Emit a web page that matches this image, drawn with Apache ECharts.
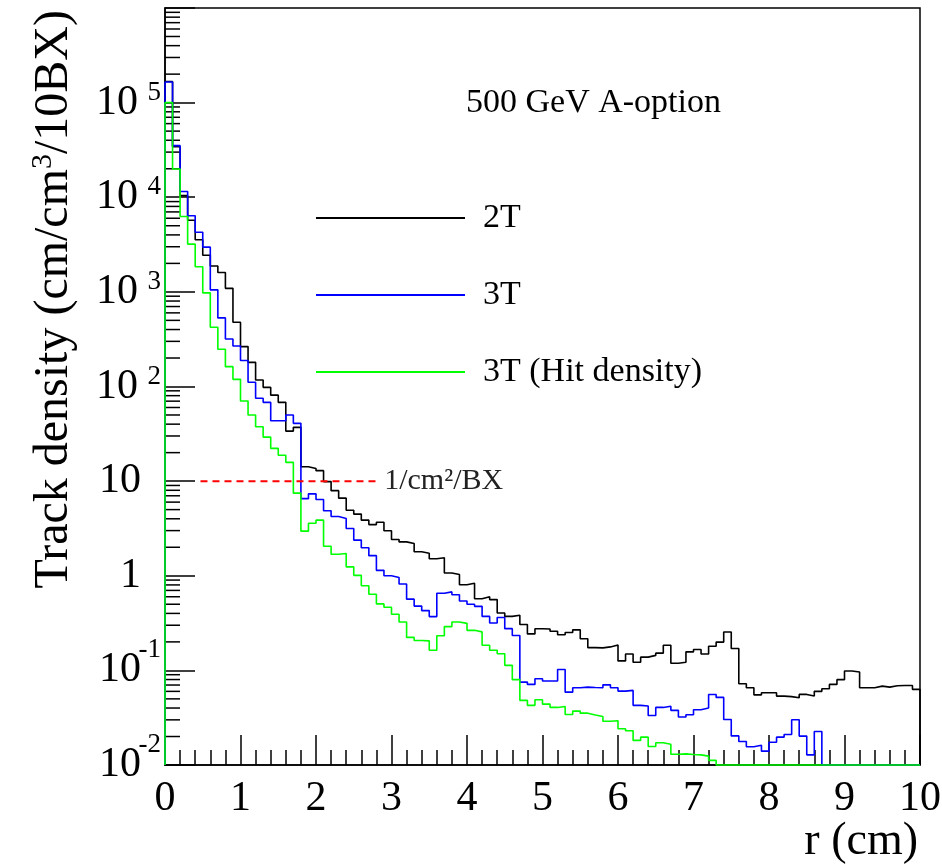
<!DOCTYPE html>
<html><head><meta charset="utf-8">
<script src="https://cdn.jsdelivr.net/npm/echarts@6/dist/echarts.min.js"></script>
<style>html,body{margin:0;padding:0;background:#fff}#c{width:942px;height:864px}</style>
</head><body><div id="c"></div>
<script>
// ---- data ----
const binStart = 0;      // cm
const binWidth = 0.1;    // cm
const yMin = 0.01, yMax = 1e6;
const xMin = 0, xMax = 10;
const seriesNames = ['2T', '3T', '3T (Hit density)'];

const track2T = [
  1.67e5, 3.42e4, 1.04e4, 5.71e3, 3.55e3, 2.44e3, 1.88e3, 1.60e3, 1.09e3, 478,
  264, 180, 117, 98, 81, 68, 33.8, 37.0, 14.2, 13.6,
  12.9, 9.88, 7.93, 6.61, 4.93, 4.48, 3.87, 3.47, 3.68, 2.99,
  2.42, 2.28, 2.19, 1.79, 1.73, 1.51, 1.55, 1.07, 1.03, 0.804,
  0.834, 0.572, 0.600, 0.560, 0.404, 0.372, 0.382, 0.305, 0.243, 0.275,
  0.274, 0.259, 0.238, 0.251, 0.268, 0.216, 0.174, 0.173, 0.177, 0.185,
  0.126, 0.149, 0.122, 0.138, 0.144, 0.152, 0.184, 0.119, 0.122, 0.157,
  0.166, 0.149, 0.180, 0.199, 0.254, 0.170, 0.0723, 0.0656, 0.0551, 0.0581,
  0.0581, 0.0535, 0.0528, 0.0514, 0.0557, 0.0535, 0.0600, 0.0640, 0.0711, 0.0798,
  0.0984, 0.0960, 0.0656, 0.0656, 0.0682, 0.0665, 0.0689, 0.0693, 0.0693, 0.0630
];
const track3T = [
  1.65e5, 3.51e4, 1.15e4, 6.37e3, 4.27e3, 2.97e3, 1.05e3, 531, 318, 268,
  188, 111, 75.0, 68.0, 43.5, 43.5, 49.9, 40.8, 6.53, 7.34,
  6.40, 4.87, 4.23, 4.03, 3.16, 2.38, 1.98, 1.63, 1.14, 1.00,
  0.959, 0.818, 0.566, 0.478, 0.428, 0.370, 0.653, 0.675, 0.630, 0.540,
  0.499, 0.475, 0.372, 0.317, 0.362, 0.276, 0.234, 0.0752, 0.0711, 0.0817,
  0.0771, 0.0771, 0.102, 0.0589, 0.0656, 0.0665, 0.0660, 0.0656, 0.0703, 0.0656,
  0.0604, 0.0614, 0.0427, 0.0421, 0.0334, 0.0406, 0.0418, 0.0378, 0.0321, 0.0340,
  0.0384, 0.0401, 0.0555, 0.0518, 0.0303, 0.0203, 0.0177, 0.0156, 0.0162, 0.0140,
  0.0174, 0.0197, 0.0210, 0.0301, 0.0202, 0.0128, 0.0226, 0, 0, 0,
  0, 0, 0, 0, 0, 0, 0, 0, 0, 0
];
const hit3T = [
  1.0e5, 1.99e4, 6.27e3, 3.20e3, 1.84e3, 976, 423, 248, 162, 119,
  70.3, 49.9, 37.6, 29.2, 22.2, 18.8, 15.8, 7.46, 2.96, 3.59,
  3.87, 2.05, 1.69, 1.72, 1.24, 1.01, 0.783, 0.637, 0.504, 0.464,
  0.392, 0.324, 0.223, 0.207, 0.205, 0.163, 0.232, 0.290, 0.324, 0.314,
  0.265, 0.255, 0.184, 0.163, 0.150, 0.113, 0.0798, 0.0482, 0.0427, 0.0490,
  0.0440, 0.0406, 0.0416, 0.0342, 0.0371, 0.0353, 0.0338, 0.0326, 0.0290, 0.0293,
  0.0242, 0.0230, 0.0182, 0.0197, 0.0157, 0.0172, 0.0166, 0.0130, 0.0131, 0.0129,
  0.0128, 0.0124, 0.0112, 0, 0, 0, 0, 0, 0, 0,
  0, 0, 0, 0, 0, 0, 0, 0, 0, 0,
  0, 0, 0, 0, 0, 0, 0, 0, 0, 0
];
// reference line: 1 /cm^2 /BX
const refX = [0.47, 2.85];
const refLevel = 10;
const refText = '1/cm²/BX';
const plotTitle = '500 GeV A-option';
const yTitle = ['Track density (cm/cm', '3', '/10BX)'];
const xTitle = 'r (cm)';

// ---- drawing ----
const FONT = 'Liberation Serif';
function histPath(vals) {
  const pts = [[binStart, yMin]];
  vals.forEach((v, i) => pts.push([+(binStart + i * binWidth).toFixed(4), Math.max(v, yMin)]));
  const xEnd = +(binStart + vals.length * binWidth).toFixed(4);
  pts.push([xEnd, Math.max(vals[vals.length - 1], yMin)]);
  pts.push([xEnd, yMin]);
  return pts;
}
// log minor tick positions 2..9 x 10^n
const minorY = [];
for (let e = Math.round(Math.log10(yMin)); e < Math.round(Math.log10(yMax)); e++) {
  for (let m = 2; m <= 9; m++) minorY.push([xMin, m * Math.pow(10, e)]);
}

const chart = echarts.init(document.getElementById('c'), null, {renderer: 'canvas'});
function histSeries(name, vals, color) {
  return {
    name, type: 'line', step: 'end', data: histPath(vals),
    symbol: 'none', clip: false, animation: false,
    lineStyle: {color, width: 1.6}, itemStyle: {color}
  };
}
chart.setOption({
  animation: false,
  backgroundColor: '#fff',
  title: {
    text: plotTitle, left: 466, top: 86, padding: 0,
    textStyle: {fontFamily: FONT, fontSize: 34, fontWeight: 'normal', color: '#000'}
  },
  grid: {left: 165, right: 22, top: 8, bottom: 99, containLabel: false, outerBoundsMode: 'none',
         show: true, borderColor: '#000', borderWidth: 1.5, backgroundColor: 'transparent'},
  legend: {
    data: seriesNames.map(n => ({name: n, icon: 'rect'})), orient: 'vertical', left: 316, top: 201,
    itemWidth: 149, itemHeight: 2, itemGap: 43, padding: 0,
    textStyle: {fontFamily: FONT, fontSize: 34, lineHeight: 34, color: '#000', padding: [0, 0, 0, 13]}
  },
  xAxis: {
    type: 'value', min: xMin, max: xMax, interval: 1,
    axisLine: {lineStyle: {color: '#000', width: 1.5}},
    axisTick: {inside: true, length: 30, lineStyle: {color: '#000', width: 1.5}},
    minorTick: {show: true, splitNumber: 5, length: 15, lineStyle: {color: '#000', width: 1.5}},
    splitLine: {show: false},
    axisLabel: {fontFamily: FONT, fontSize: 42, color: '#000', margin: 13}
  },
  yAxis: {
    type: 'log', logBase: 10, min: yMin, max: yMax,
    axisLine: {lineStyle: {color: '#000', width: 1.5}},
    axisTick: {inside: true, length: 30, lineStyle: {color: '#000', width: 1.5}},
    splitLine: {show: false},
    axisLabel: {
      margin: 4, color: '#000',
      formatter: v => {
        const e = Math.round(Math.log10(v));
        if (e >= 6) return '';
        if (e === 0) return '{b|1}{e| }';
        if (e === 1) return '{b|10}{e| }';
        return '{b|10}{' + (e < 0 ? 'n' : 'p') + '|' + e + '}';
      },
      rich: {
        b: {fontFamily: FONT, fontSize: 42, color: '#000'},
        e: {fontFamily: FONT, fontSize: 27, width: 20},
        p: {fontFamily: FONT, fontSize: 27, color: '#000', width: 20, padding: [0, 0, 20, 3]},
        n: {fontFamily: FONT, fontSize: 27, color: '#000', width: 20, padding: [0, 0, 40, 0]}
      }
    }
  },
  graphic: [{
    type: 'text', x: 54, y: 10, rotation: Math.PI / 2,
    style: {
      text: '{t|' + yTitle[0] + '}{s|' + yTitle[1] + '}{t|' + yTitle[2] + '}',
      align: 'right', verticalAlign: 'middle',
      rich: {
        t: {fontFamily: FONT, fontSize: 48, fill: '#000'},
        s: {fontFamily: FONT, fontSize: 30, fill: '#000', padding: [0, 0, 22, 0]}
      }
    }
  }, {
    type: 'text', x: 918, y: 842,
    style: {text: xTitle, align: 'right', verticalAlign: 'middle', fontFamily: FONT, fontSize: 46, fill: '#000'}
  }],
  series: [
    histSeries(seriesNames[0], track2T, '#000000'),
    histSeries(seriesNames[1], track3T, '#0000ff'),
    histSeries(seriesNames[2], hit3T, '#00ff00'),
    {
      name: 'ref', type: 'line', data: refX.map(x => [x, refLevel]), symbol: 'none', clip: false,
      lineStyle: {color: '#ff0000', width: 2, type: [7, 5]},
      endLabel: {show: true, formatter: refText, fontFamily: FONT, fontSize: 30, color: '#222', distance: 4}
    },
    {
      type: 'custom', silent: true, clip: false, data: minorY,
      renderItem: (params, api) => {
        const p = api.coord([api.value(0), api.value(1)]);
        return {type: 'line', shape: {x1: p[0], y1: p[1], x2: p[0] + 15, y2: p[1]}, style: {stroke: '#000', lineWidth: 1.5}};
      }
    }
  ]
});
</script></body></html>
